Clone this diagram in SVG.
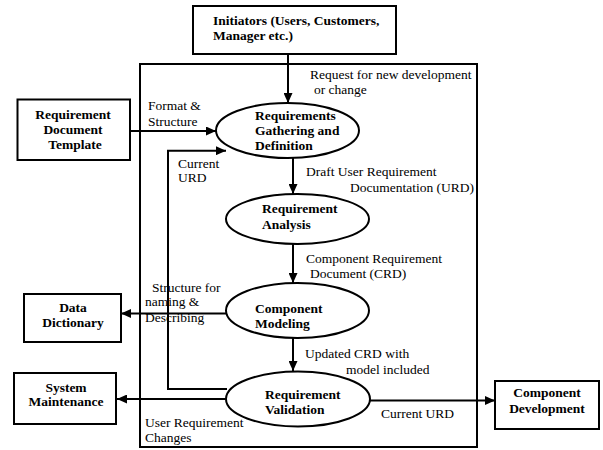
<svg xmlns="http://www.w3.org/2000/svg" width="603" height="450" viewBox="0 0 603 450">
<defs>
<marker id="arr" markerUnits="userSpaceOnUse" markerWidth="10" markerHeight="9" refX="10" refY="4.5" orient="auto">
<path d="M0,0 L10,4.5 L0,9 z" fill="#000"/>
</marker>
<style>
.box{fill:#fff;stroke:#000;stroke-width:2}
.ell{fill:#fff;stroke:#000;stroke-width:2}
.frame{fill:none;stroke:#000;stroke-width:2}
.ca{fill:none;stroke:#000;stroke-width:2;marker-end:url(#arr)}
.b{font-family:"Liberation Serif","Times New Roman",serif;font-size:13.5px;font-weight:bold;fill:#000}
.bm{font-family:"Liberation Serif","Times New Roman",serif;font-size:13.5px;font-weight:bold;fill:#000;text-anchor:middle}
.t{font-family:"Liberation Serif","Times New Roman",serif;font-size:13.5px;fill:#000}
</style>
</defs>
<rect class="frame" x="140" y="64" width="337" height="383"/>
<g id="connectors">
<line class="ca" x1="288" y1="54" x2="288" y2="103"/>
<line class="ca" x1="130" y1="131" x2="216" y2="131"/>
<path class="ca" d="M227,389 H168 V150.7 H226"/>
<line class="ca" x1="293" y1="158" x2="293" y2="194"/>
<line class="ca" x1="293" y1="244" x2="293" y2="283"/>
<line class="ca" x1="226" y1="313.5" x2="121" y2="313.5"/>
<line class="ca" x1="293" y1="338" x2="293" y2="371"/>
<line class="ca" x1="226" y1="399" x2="117" y2="399"/>
<line class="ca" x1="370" y1="400.5" x2="495" y2="400.5"/>
<text class="t" x="310" y="78.5">Request for new development</text>
<text class="t" x="314" y="93.5">or change</text>
<text class="t" x="148" y="110">Format &amp;</text>
<text class="t" x="148" y="126">Structure</text>
<text class="t" x="178" y="167.5">Current</text>
<text class="t" x="178" y="181.5">URD</text>
<text class="t" x="306" y="176">Draft User Requirement</text>
<text class="t" x="350" y="192">Documentation (URD)</text>
<text class="t" x="306" y="263">Component Requirement</text>
<text class="t" x="310" y="277.5">Document (CRD)</text>
<text class="t" x="152" y="291.5">Structure for</text>
<text class="t" x="145" y="306">naming &amp;</text>
<text class="t" x="145" y="322">Describing</text>
<text class="t" x="305" y="358">Updated CRD with</text>
<text class="t" x="346" y="373.5">model included</text>
<text class="t" x="145" y="427">User Requirement</text>
<text class="t" x="145" y="441.5">Changes</text>
<text class="t" x="381" y="418">Current URD</text>
</g>
<g id="initiators">
<rect class="box" x="193" y="6" width="203" height="48"/>
<text class="b" x="213" y="25">Initiators (Users, Customers,</text>
<text class="b" x="213" y="39.5">Manager etc.)</text>
</g>
<g id="template">
<rect class="box" x="17.5" y="99.5" width="112.5" height="60.5"/>
<text class="bm" x="73" y="118.5">Requirement</text>
<text class="bm" x="73" y="134">Document</text>
<text class="bm" x="75" y="149">Template</text>
</g>
<g id="gathering">
<ellipse class="ell" cx="287.5" cy="130.5" rx="71.5" ry="27.5"/>
<text class="b" x="255" y="119.5">Requirements</text>
<text class="b" x="255" y="134.5">Gathering and</text>
<text class="b" x="255" y="150">Definition</text>
</g>
<g id="analysis">
<ellipse class="ell" cx="297.5" cy="219" rx="71.5" ry="25"/>
<text class="b" x="262" y="213">Requirement</text>
<text class="b" x="262" y="228.5">Analysis</text>
</g>
<g id="modeling">
<ellipse class="ell" cx="297.5" cy="310.5" rx="71.5" ry="27.5"/>
<text class="b" x="255" y="312.5">Component</text>
<text class="b" x="255" y="328">Modeling</text>
</g>
<g id="validation">
<ellipse class="ell" cx="298" cy="399" rx="72" ry="27.5"/>
<text class="b" x="265" y="398.5">Requirement</text>
<text class="b" x="265" y="414">Validation</text>
</g>
<g id="dictionary">
<rect class="box" x="24" y="294" width="97" height="48"/>
<text class="bm" x="73" y="312">Data</text>
<text class="bm" x="73" y="327">Dictionary</text>
</g>
<g id="maintenance">
<rect class="box" x="14" y="373" width="102" height="51"/>
<text class="bm" x="66" y="391.5">System</text>
<text class="bm" x="66" y="406">Maintenance</text>
</g>
<g id="development">
<rect class="box" x="495" y="381" width="104" height="48"/>
<text class="bm" x="547" y="397">Component</text>
<text class="bm" x="547" y="412.5">Development</text>
</g>
</svg>
